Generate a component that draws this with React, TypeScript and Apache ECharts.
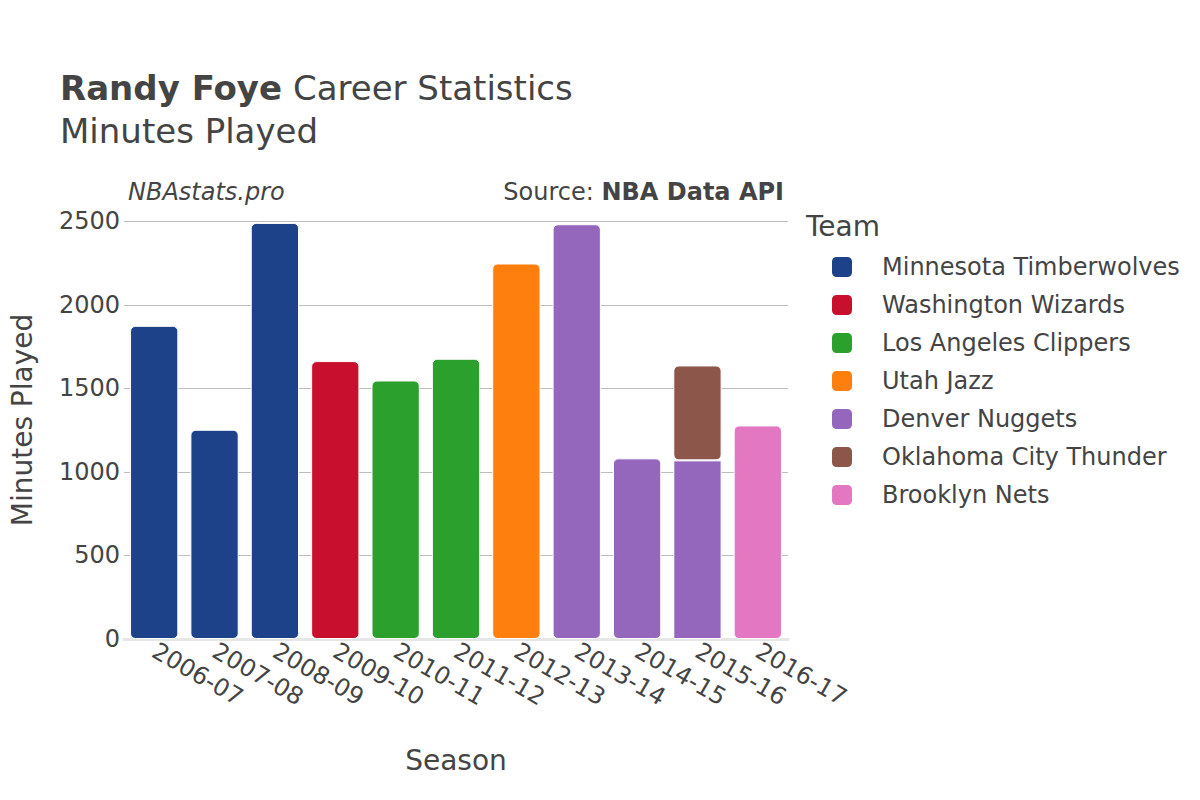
import React, { useEffect, useRef } from "react";
import * as echarts from "echarts";

const seasons = ["2006-07", "2007-08", "2008-09", "2009-10", "2010-11", "2011-12", "2012-13", "2013-14", "2014-15", "2015-16", "2016-17"];
const teams = ["Minnesota Timberwolves", "Washington Wizards", "Los Angeles Clippers", "Utah Jazz", "Denver Nuggets", "Oklahoma City Thunder", "Brooklyn Nets"];
const teamColors = ["#1d428a", "#c8102e", "#2ca02c", "#ff7f0e", "#9467bd", "#8c564b", "#e377c2"];
const minnesota = [1874, 1252, 2490, null, null, null, null, null, null, null, null];
const washington = [null, null, null, 1663, null, null, null, null, null, null, null];
const clippers = [null, null, null, null, 1547, 1677, null, null, null, null, null];
const utah = [null, null, null, null, null, null, 2247, null, null, null, null];
const denver = [null, null, null, null, null, null, null, 2482, 1081, 1069, null];
const okc = [null, null, null, null, null, null, null, null, null, 568, null];
const brooklyn = [null, null, null, null, null, null, null, null, null, null, 1278];
const teamValues = [minnesota, washington, clippers, utah, denver, okc, brooklyn];
const yTickStep = 500;
const yAxisMax = 2621;

const FONT = "DejaVu Sans";
const TEXT = "#444";

export default function App() {
  const ref = useRef<HTMLDivElement>(null);
  useEffect(() => {
    if (!ref.current) return;
    const chart = echarts.init(ref.current, null, { renderer: "svg" });
    const series = teams.map((team, ti) => ({
      name: team,
      type: "bar",
      stack: "total",
      barCategoryGap: "20%",
      itemStyle: { color: teamColors[ti], borderColor: "#fff", borderWidth: 1, borderRadius: 5 },
      data: teamValues[ti].map((v, si) => {
        if (v === null) return null;
        const hasAbove = teamValues.slice(ti + 1).some((arr) => arr[si] !== null);
        return hasAbove ? { value: v, itemStyle: { borderRadius: 0 } } : v;
      }),
    }));
    chart.setOption({
      animation: false,
      backgroundColor: "#fff",
      textStyle: { fontFamily: FONT },
      grid: { left: 120, right: 412, top: 201, bottom: 161 },
      xAxis: {
        type: "category",
        data: seasons,
        name: "Season",
        nameLocation: "middle",
        nameGap: 107,
        nameTextStyle: { fontSize: 28, color: TEXT, fontFamily: FONT },
        axisLine: { lineStyle: { color: "#e6e6e6", width: 3 } },
        axisTick: { show: false },
        axisLabel: { rotate: -30, fontSize: 24, color: TEXT, margin: 10, interval: 0, fontFamily: FONT },
      },
      yAxis: {
        type: "value",
        min: 0,
        max: yAxisMax,
        interval: yTickStep,
        name: "Minutes Played",
        nameLocation: "middle",
        nameGap: 88,
        nameTextStyle: { fontSize: 28, color: TEXT, fontFamily: FONT },
        axisLine: { show: false },
        axisTick: { show: false },
        axisLabel: {
          fontSize: 24,
          color: TEXT,
          margin: 4,
          fontFamily: FONT,
          showMaxLabel: false,
          formatter: (v: number) => String(v),
        },
        splitLine: { lineStyle: { color: "#bdbdbd", width: 1 }, showMaxLine: false },
      },
      legend: {
        orient: "vertical",
        left: 825,
        top: 250,
        itemWidth: 22,
        itemHeight: 22,
        itemGap: 14,
        icon: "roundRect",
        data: teams,
        textStyle: { fontSize: 24, color: TEXT, fontFamily: FONT, padding: [0, 0, 0, 24] },
      },
      graphic: [
        {
          type: "text",
          left: 60,
          top: 71,
          style: {
            text: "{b|Randy Foye}{n| Career Statistics}",
            rich: {
              b: { fontSize: 34, fontWeight: "bold", fill: TEXT, fontFamily: FONT },
              n: { fontSize: 34, fill: TEXT, fontFamily: FONT },
            },
          },
        },
        { type: "text", left: 60, top: 114, style: { text: "Minutes Played", fontSize: 34, fill: TEXT, fontFamily: FONT } },
        { type: "text", left: 128, top: 180, style: { text: "NBAstats.pro", fontSize: 24, fontStyle: "italic", fill: TEXT, fontFamily: FONT } },
        {
          type: "text",
          right: 416,
          top: 180,
          style: {
            text: "{n|Source: }{b|NBA Data API}",
            rich: {
              n: { fontSize: 24, fill: TEXT, fontFamily: FONT },
              b: { fontSize: 24, fontWeight: "bold", fill: TEXT, fontFamily: FONT },
            },
          },
        },
        { type: "text", left: 806, top: 212, style: { text: "Team", fontSize: 28, fill: TEXT, fontFamily: FONT } },
      ],
      series,
    });
    return () => chart.dispose();
  }, []);
  return <div ref={ref} style={{ width: 1200, height: 800, position: "absolute", left: 0, top: 0 }} />;
}
